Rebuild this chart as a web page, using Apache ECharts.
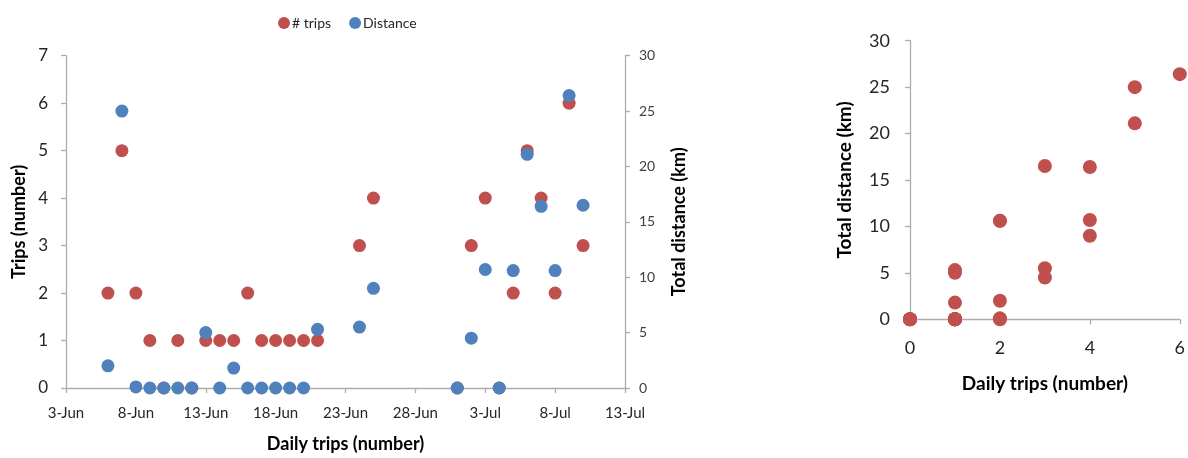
<!DOCTYPE html>
<html>
<head>
<meta charset="utf-8">
<script src="https://cdn.jsdelivr.net/npm/echarts@6/dist/echarts.min.js"></script>
<style>
  html, body { margin: 0; padding: 0; background: #ffffff; }
  #chart { width: 1188px; height: 458px; }
</style>
</head>
<body>
<div id="chart"></div>
<script>
// ---- Data ----
const year = 2014;
const startDate = '06-03';
const dates = ['06-06','06-07','06-08','06-09','06-10','06-11','06-12','06-13','06-14','06-15',
               '06-16','06-17','06-18','06-19','06-20','06-21','06-24','06-25',
               '07-01','07-02','07-03','07-04','07-05','07-06','07-07','07-08','07-09','07-10'];
const trips    = [2, 5, 2, 1, 0, 1, 0, 1, 1, 1,
                  2, 1, 1, 1, 1, 1, 3, 4,
                  0, 3, 4, 0, 2, 5, 4, 2, 6, 3];
const distance = [2.0, 25.0, 0.1, 0, 0, 0, 0, 5.0, 0, 1.8,
                  0, 0, 0, 0, 0, 5.3, 5.5, 9.0,
                  0, 4.5, 10.7, 0, 10.6, 21.1, 16.4, 10.6, 26.4, 16.5];
const dateTickLabels = ['3-Jun','8-Jun','13-Jun','18-Jun','23-Jun','28-Jun','3-Jul','8-Jul','13-Jul'];
const seriesNames = ['# trips', 'Distance'];

// ---- Helpers ----
function dayOffset(md) {
  const [m, d] = md.split('-').map(Number);
  const [m0, d0] = startDate.split('-').map(Number);
  return Math.round((Date.UTC(year, m - 1, d) - Date.UTC(year, m0 - 1, d0)) / 86400000);
}
const tripsData = dates.map((d, i) => [dayOffset(d), trips[i]]);
const distData  = dates.map((d, i) => [dayOffset(d), distance[i]]);
const pairData  = dates.map((d, i) => [trips[i], distance[i]]);

const RED = '#C0504D';
const BLUE = '#4F81BD';
const AXIS = '#ADADAD';
const FONT = 'Lato, "Open Sans", sans-serif';

const axisCommon = {
  axisLine: { show: true, lineStyle: { color: AXIS, width: 1.3 } },
  axisTick: { show: true, length: 5, inside: false, lineStyle: { color: AXIS, width: 1.3 } },
  splitLine: { show: false },
  nameLocation: 'middle',
  nameTextStyle: { fontFamily: FONT, fontWeight: 'bold', fontSize: 18, color: '#000' }
};

const chart = echarts.init(document.getElementById('chart'), null, { renderer: 'canvas' });
chart.setOption({
  animation: false,
  backgroundColor: '#ffffff',
  legend: {
    data: seriesNames,
    left: 273, top: 11,
    icon: 'circle', itemWidth: 12, itemHeight: 12, itemGap: 18,
    textStyle: { fontFamily: FONT, fontSize: 14, color: '#262626', padding: [0, 0, 0, -3] }
  },
  grid: [
    { left: 66, right: 563, top: 55.7, bottom: 69 },
    { left: 910, right: 6, top: 40.7, bottom: 138.7 }
  ],
  xAxis: [
    Object.assign({}, axisCommon, {
      gridIndex: 0, type: 'value', min: 0, max: 40, interval: 5,
      name: 'Daily trips (number)', nameGap: 47,
      axisLabel: { fontFamily: FONT, fontSize: 15, color: '#262626', margin: 18,
        formatter: v => dateTickLabels[Math.round(v / 5)] }
    }),
    Object.assign({}, axisCommon, {
      gridIndex: 1, type: 'value', min: 0, max: 6, interval: 2,
      name: 'Daily trips (number)', nameGap: 55,
      nameTextStyle: { fontFamily: FONT, fontWeight: 'bold', fontSize: 19, color: '#000' },
      axisLabel: { fontFamily: FONT, fontSize: 18, color: '#262626', margin: 20 }
    })
  ],
  yAxis: [
    Object.assign({}, axisCommon, {
      gridIndex: 0, type: 'value', min: 0, max: 7, interval: 1, position: 'left',
      name: 'Trips (number)', nameGap: 38, nameRotate: 90,
      axisLabel: { fontFamily: FONT, fontSize: 17, color: '#262626', margin: 18 }
    }),
    Object.assign({}, axisCommon, {
      gridIndex: 0, type: 'value', min: 0, max: 30, interval: 5, position: 'right',
      name: 'Total distance (km)', nameGap: 45, nameRotate: 90,
      axisLabel: { fontFamily: FONT, fontSize: 14, color: '#404040', margin: 14 }
    }),
    Object.assign({}, axisCommon, {
      gridIndex: 1, type: 'value', min: 0, max: 30, interval: 5, position: 'left',
      name: 'Total distance (km)', nameGap: 56, nameRotate: 90,
      nameTextStyle: { fontFamily: FONT, fontWeight: 'bold', fontSize: 19, color: '#000' },
      axisLabel: { fontFamily: FONT, fontSize: 18, color: '#262626', margin: 20 }
    })
  ],
  series: [
    { name: seriesNames[0], type: 'scatter', xAxisIndex: 0, yAxisIndex: 0,
      data: tripsData, symbolSize: 13, clip: false, itemStyle: { color: RED, opacity: 1 } },
    { name: seriesNames[1], type: 'scatter', xAxisIndex: 0, yAxisIndex: 1,
      data: distData, symbolSize: 13, clip: false, itemStyle: { color: BLUE, opacity: 1 } },
    { name: 'Trips vs distance', type: 'scatter', xAxisIndex: 1, yAxisIndex: 2,
      data: pairData, symbolSize: 14, clip: false, itemStyle: { color: RED, opacity: 1 } }
  ]
});
</script>
</body>
</html>
